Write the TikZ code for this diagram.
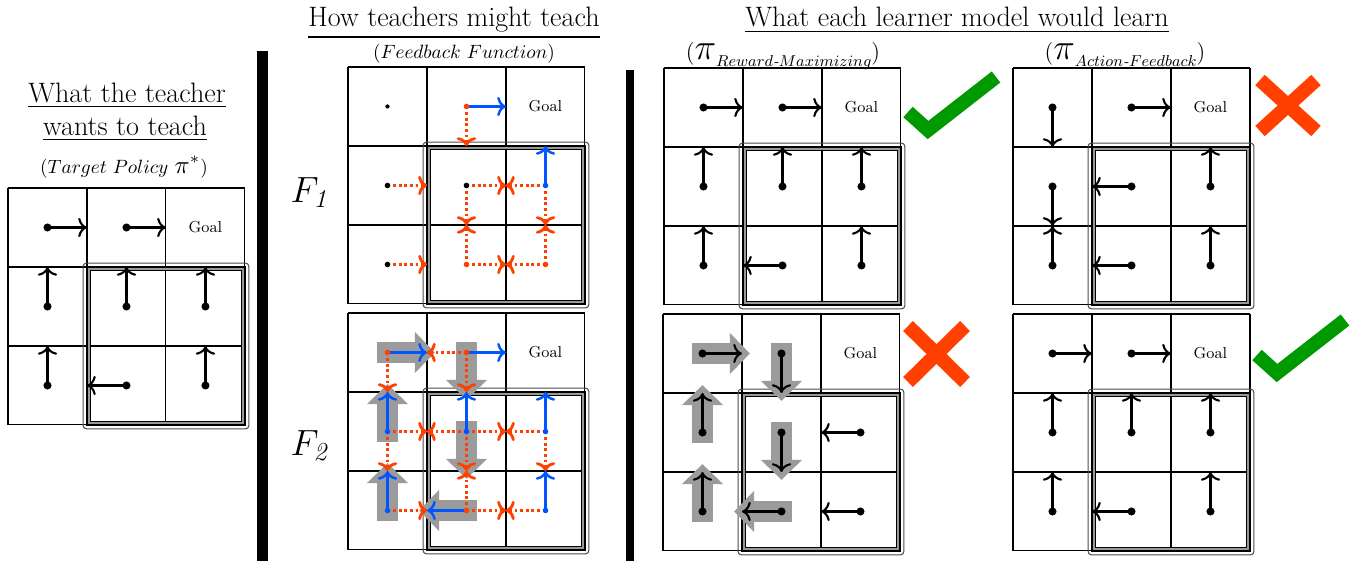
\documentclass[tikz,border=0pt]{standalone}
\usepackage{amsmath}
\usepackage{xcolor}
\usepackage{tikz}
\usetikzlibrary{arrows.meta}

\definecolor{fbblue}{RGB}{0,85,255}
\definecolor{fbred}{RGB}{255,64,0}
\definecolor{okgreen}{RGB}{0,153,0}
\definecolor{demogray}{RGB}{155,155,155}

\newcommand\learnerpi[1]{{\fontsize{13}{15}\selectfont(}{\fontsize{20}{20}\selectfont$\pi$}\raisebox{-4pt}{\fontsize{9}{10}\selectfont$#1$}{\fontsize{13}{15}\selectfont)}}

\tikzset{
  pol/.style={line width=1.2pt,-{To[length=5pt,width=11pt]}},
  good/.style={fbblue,line width=1.4pt,-{To[length=5pt,width=11pt]}},
  bad/.style={fbred,line width=1.6pt,dash pattern=on 1.6pt off 1.6pt,-{To[length=5pt,width=11pt]}},
  demo/.style={demogray,line width=0.42cm,-{Triangle[length=0.4cm,width=0.8cm]}},
  verdict/.style={line width=0.28cm},
  headline/.style={font=\fontsize{16}{19}\selectfont,anchor=base,inner sep=0pt},
  subline/.style={font=\fontsize{10.5}{12}\selectfont,anchor=base,inner sep=0pt}
}

\begin{document}
\begin{tikzpicture}[x=0.02cm,y=-0.02cm]
\def\gridbase{
  \foreach \i in {0,...,3} {\draw[line width=0.6pt] (\i,0) -- (\i,3); \draw[line width=0.6pt] (0,\i) -- (3,\i);}
  \draw[black!70,line width=0.6pt,rounded corners=2pt] (0.95,0.95) rectangle (3.05,3.05);
  \draw[line width=1.3pt] (1,1) rectangle (3,3);
  \draw[black!40,line width=0.8pt] (1.025,1.025) rectangle (2.975,2.975);
  \draw[line width=0.5pt] (1.045,1.045) rectangle (2.955,2.955);
  \node[font=\fontsize{9}{10}\selectfont] at (2.5,.5) {Goal};
}
\def\policy#1{\foreach \c/\r/\dx/\dy in #1 {\fill (\c+.5,\r+.5) circle (2.3pt); \draw[pol] (\c+.5,\r+.5) -- ++(\dx,\dy);}}
\def\feedback#1#2{\foreach \c/\r/\dx/\dy in {#2} \draw[#1] (\c+.5,\r+.5) -- ++(\dx,\dy);}
\def\demos#1{\foreach \c/\r/\dx/\dy in {#1} \draw[demo] (\c+.5-.26*\dx,\r+.5-.26*\dy) -- (\c+.5+1.2*\dx,\r+.5+1.2*\dy);}
\def\spot#1#2{\foreach \c/\r in {#2} \fill[#1] (\c+.5,\r+.5) circle (1.6pt);}
\def\optpolicy{0/0/.5/0, 1/0/.5/0, 0/1/0/-.5, 1/1/0/-.5, 2/1/0/-.5, 0/2/0/-.5, 1/2/-.5/0, 2/2/0/-.5}
\useasboundingbox (0,0) rectangle (1354,561);

% titles
\node[headline] (wanttitle) at (127,102) {\underline{What the teacher}};
\node[headline] (wanttitle2) at (125,135) {\underline{wants to teach}};
\node[subline] (targetpol) at (124,173) {$(Target\ Policy\ $\scalebox{1.3}{$\pi^{*}$}$)$};
\node[headline] (howtitle) at (454,27) {\underline{How teachers might teach}};
\node[subline] (fbfunc) at (464,58) {$(Feedback\ Function)$};
\node[headline] (learntitle) at (957,27) {\underline{What each learner model would learn}};
\node[anchor=base,inner sep=0pt] (rmlabel) at (783,59) {\learnerpi{Reward\textit{-}Maximizing}};
\node[anchor=base,inner sep=0pt] (aflabel) at (1125,59) {\learnerpi{Action\textit{-}Feedback}};
\node[anchor=base,font=\fontsize{21}{24}\selectfont] (fone) at (309,202) {$F_{\textit{1}}$};
\node[anchor=base,font=\fontsize{21}{24}\selectfont] (ftwo) at (309,455) {$F_{\textit{2}}$};

% separators
\fill (257,51) rectangle (268,561);
\fill (626,70) rectangle (634,561);

% target policy
\begin{scope}[shift={(8,188)},x=1.58cm,y=-1.58cm]
  \gridbase
  \policy\optpolicy
\end{scope}

% F1
\begin{scope}[shift={(348,67)},x=1.58cm,y=-1.58cm]
  \gridbase
  \feedback{bad}{1/0/0/.5, 0/1/.5/0, 1/1/.5/0, 1/1/0/.5, 2/1/-.5/0, 2/1/0/.5, 0/2/.5/0, 1/2/0/-.5, 1/2/.5/0, 2/2/0/-.5, 2/2/-.5/0}
  \feedback{good}{1/0/.5/0, 2/1/0/-.5}
  \fill (.5,.5) circle (1.2pt);
  \spot{black}{0/1, 1/1, 0/2}
  \spot{fbred}{1/0, 1/2, 2/2}
  \spot{fbblue}{2/1}
\end{scope}

% F2
\begin{scope}[shift={(348,313)},x=1.58cm,y=-1.58cm]
  \gridbase
  \demos{0/0/.5/0, 1/0/0/.5, 0/1/0/-.5, 1/1/0/.5, 0/2/0/-.5, 1/2/-.5/0}
  \feedback{bad}{0/0/0/.5, 1/0/-.5/0, 1/0/0/.5, 0/1/.5/0, 0/1/0/.5, 1/1/-.5/0, 1/1/.5/0, 1/1/0/.5, 2/1/-.5/0, 2/1/0/.5, 0/2/.5/0, 1/2/0/-.5, 1/2/.5/0, 2/2/-.5/0}
  \feedback{good}{0/0/.5/0, 1/0/.5/0, 0/1/0/-.5, 1/1/0/-.5, 2/1/0/-.5, 0/2/0/-.5, 1/2/-.5/0, 2/2/0/-.5}
  \spot{fbred}{0/0, 1/0, 1/2}
  \spot{fbblue}{0/1, 1/1, 2/1, 0/2, 2/2}
\end{scope}

% reward-maximizing learner
\begin{scope}[shift={(664,68)},x=1.58cm,y=-1.58cm]
  \gridbase
  \policy\optpolicy
\end{scope}
\begin{scope}[shift={(663,314)},x=1.58cm,y=-1.58cm]
  \gridbase
  \demos{0/0/.5/0, 1/0/0/.5, 0/1/0/-.5, 1/1/0/.5, 0/2/0/-.5, 1/2/-.5/0}
  \policy{{0/0/.5/0, 1/0/0/.5, 0/1/0/-.5, 1/1/0/.5, 2/1/-.5/0, 0/2/0/-.5, 1/2/-.5/0, 2/2/-.5/0}}
\end{scope}

% action-feedback learner
\begin{scope}[shift={(1013,68)},x=1.58cm,y=-1.58cm]
  \gridbase
  \policy{{0/0/0/.5, 1/0/.5/0, 0/1/0/.5, 1/1/-.5/0, 2/1/0/-.5, 0/2/0/-.5, 1/2/-.5/0, 2/2/0/-.5}}
\end{scope}
\begin{scope}[shift={(1013,314)},x=1.58cm,y=-1.58cm]
  \gridbase
  \policy\optpolicy
\end{scope}

% verdicts
\draw[verdict,okgreen] (908,112) -- ++(20,18) -- ++(68,-53);
\draw[verdict,fbred] (1260,80) -- (1316,131) (1316,80) -- (1260,131);
\draw[verdict,fbred] (908,326) -- (965,382) (965,326) -- (908,382);
\draw[verdict,okgreen] (1257,355) -- ++(20,18) -- ++(68,-53);
\end{tikzpicture}
\end{document}
